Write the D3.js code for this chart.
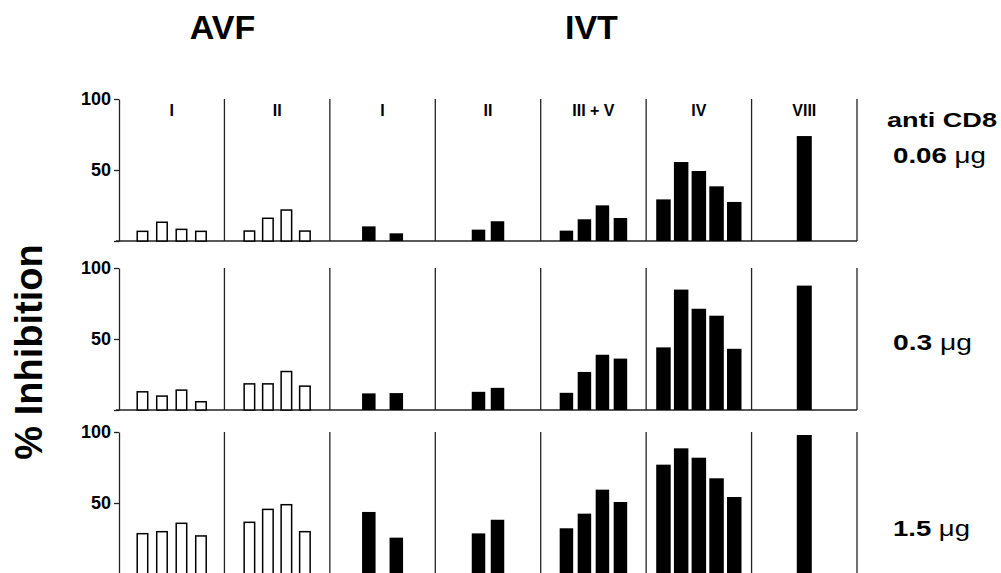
<!doctype html>
<html>
<head>
<meta charset="utf-8">
<title>% Inhibition by anti CD8</title>
<script src="https://d3js.org/d3.v7.min.js"></script>
<style>
  body { margin: 0; background: #fff; }
  svg text { font-family: "Liberation Sans", Arial, Helvetica, sans-serif; font-weight: bold; fill: #000; }
</style>
</head>
<body>
<div id="chart"></div>
<script>
// ---- data ----
const groups = ["AVF", "IVT"]
const panels = ["I", "II", "I", "II", "III + V", "IV", "VIII"]
const panelGroup = ["AVF", "AVF", "IVT", "IVT", "IVT", "IVT", "IVT"]
const doses = ["0.06", "0.3", "1.5"]
const yTicks = [0, 50, 100]

// % inhibition per panel, one array per dose
const dose006 = [[6.8, 13.2, 8.2, 6.8], [7, 16, 21.8, 7], [10.3, 5.4], [8, 13.9],
                 [7.3, 15.3, 25.1, 16.2], [29.3, 55.6, 49.3, 38.5, 27.5], [73.9]]
const dose03  = [[12.8, 9.8, 14, 5.8], [18.4, 18.4, 27.1, 16.8], [11.7, 11.9], [12.8, 15.6],
                 [12.1, 26.8, 38.9, 36.2], [44.1, 84.8, 71.3, 66.4, 43.1], [87.6]]
const dose15  = [[28.4, 29.8, 35.7, 26.8], [36.4, 45.5, 48.8, 29.8], [43.7, 25.6], [28.6, 38.2],
                 [32.2, 42.5, 59.4, 50.7], [77, 88.5, 81.9, 67.4, 54.2], [97.9]]
const rows = [dose006, dose03, dose15]

// ---- layout ----
const W = 1001, H = 573
const x0 = 119, x1 = 857
const rowTop = [99, 268, 432]      // y of 100 %
const rowH = 142                   // 100 % in px
const step = [19.5, 18.5, 27.5, 19, 18, 17.7, 18]
const barW = [12, 12, 13.5, 13.5, 13.5, 14.5, 15]
const doseY = [163, 350, 536]
const doseLen = [93, 79, 77]

const svg = d3.select('#chart').append('svg')
    .attr('width', W).attr('height', H)

const px = d3.scaleBand().domain(d3.range(panels.length)).range([x0, x1])

// group titles
const groupCenter = g => {
    const idx = panelGroup.map((p, i) => p === g ? i : -1).filter(i => i >= 0)
    return (px(idx[0]) + px(idx[idx.length - 1]) + px.bandwidth()) / 2
}
svg.selectAll('text.group').data(groups).join('text')
    .attr('class', 'group')
    .attr('x', d => groupCenter(d) - 2)
    .attr('y', 39)
    .attr('text-anchor', 'middle')
    .style('font-size', '34px')
    .text(d => d)

// y title
svg.append('text')
    .attr('transform', 'translate(42,352) rotate(-90)')
    .attr('text-anchor', 'middle')
    .style('font-size', '38px')
    .text('% Inhibition')

// right labels
svg.append('text')
    .attr('x', 887).attr('y', 127)
    .attr('textLength', 110).attr('lengthAdjust', 'spacingAndGlyphs')
    .style('font-size', '21px')
    .text('anti CD8')

rows.forEach((row, r) => {
    const y = d3.scaleLinear().domain([0, 100]).range([rowTop[r] + rowH, rowTop[r]])
    const g = svg.append('g')

    // axis
    g.append('g')
        .attr('transform', `translate(${x0},0)`)
        .call(d3.axisLeft(y).tickValues(yTicks).tickSize(5).tickSizeOuter(0).tickPadding(3)
            .tickFormat(d => d ? d : ''))
        .call(a => a.selectAll('line, path').attr('stroke', '#222').attr('stroke-width', 1.3))
        .call(a => a.selectAll('text').style('font-size', '18px')
            .style('font-family', '"Liberation Sans", Arial, sans-serif').style('font-weight', 'bold'))

    // baseline
    g.append('line')
        .attr('x1', x0 - 3).attr('x2', x1)
        .attr('y1', y(0)).attr('y2', y(0))
        .attr('stroke', '#222').attr('stroke-width', 1.3)

    // dividers
    g.selectAll('line.div').data(d3.range(1, panels.length + 1)).join('line')
        .attr('class', 'div')
        .attr('x1', i => i < panels.length ? px(i) : x1)
        .attr('x2', i => i < panels.length ? px(i) : x1)
        .attr('y1', y(100)).attr('y2', y(0))
        .attr('stroke', '#222').attr('stroke-width', 1.3)

    // bars
    row.forEach((vals, p) => {
        const c = px(p) + px.bandwidth() / 2
        const n = vals.length
        const bx = d3.scaleBand().domain(d3.range(n))
            .range([c - n * step[p] / 2, c + n * step[p] / 2])
            .paddingInner(1 - barW[p] / step[p]).paddingOuter((1 - barW[p] / step[p]) / 2)
        const open = panelGroup[p] === 'AVF'
        g.selectAll(null).data(vals).join('rect')
            .attr('x', (d, i) => bx(i) + (open ? 0.75 : 0))
            .attr('width', bx.bandwidth() - (open ? 1.5 : 0))
            .attr('y', d => y(d))
            .attr('height', d => y(0) - y(d))
            .attr('fill', open ? '#fff' : '#000')
            .attr('stroke', open ? '#000' : 'none')
            .attr('stroke-width', 1.5)
    })

    // panel labels on top row
    if (r === 0) {
        g.selectAll('text.pl').data(panels).join('text')
            .attr('class', 'pl')
            .attr('x', (d, i) => px(i) + px.bandwidth() / 2)
            .attr('y', 116)
            .attr('text-anchor', 'middle')
            .style('font-size', '16px')
            .text(d => d)
    }

    // dose label
    const t = svg.append('text')
        .attr('x', 893).attr('y', doseY[r])
        .attr('textLength', doseLen[r]).attr('lengthAdjust', 'spacingAndGlyphs')
        .style('font-size', '22px')
    t.append('tspan').text(doses[r] + ' ')
    t.append('tspan').style('font-weight', 'normal').text('μg')
})
</script>
</body>
</html>
